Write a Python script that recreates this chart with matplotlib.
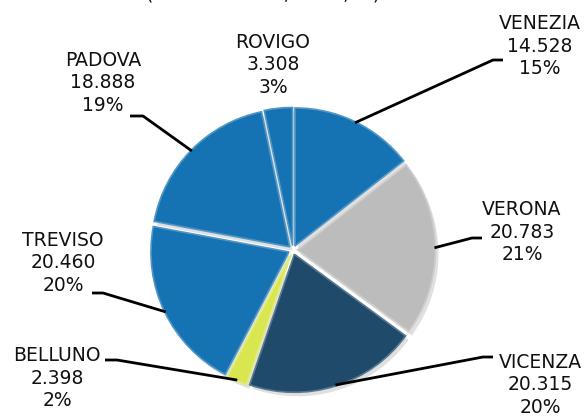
import numpy as np
import matplotlib.pyplot as plt
import matplotlib.colors as mcolors

# data
provinces = ["VENEZIA", "VERONA", "VICENZA", "BELLUNO", "TREVISO", "PADOVA", "ROVIGO"]
values = [14.528, 20.783, 20.315, 2.398, 20.460, 18.888, 3.308]
value_labels = ["14.528", "20.783", "20.315", "2.398", "20.460", "18.888", "3.308"]
pct_labels = ["15%", "21%", "20%", "2%", "20%", "19%", "3%"]
colors = ["#1673b3", "#bcbcbc", "#204a6a", "#d8e650", "#1673b3", "#1673b3", "#1673b3"]

W, H = 587, 416
def Y(y):
    #pixel row -> data y (y axis points up)
    return H - y

def lighter(c, k=0.35):
    rgb = np.array(mcolors.to_rgb(c))
    return tuple(rgb + (1 - rgb) * k)

fig = plt.figure(figsize=(W / 100, H / 100), dpi=100)
ax = fig.add_axes([0, 0, 1, 1])

cx, cy, r = 293, Y(250), 138
expl = [4.5] * len(values)   # pie explode is in data units (pixels here)

#soft shadow under the pie
ax.pie(values, radius=r, center=(cx + 3, cy - 4), startangle=90, counterclock=False,
       explode=expl, colors=["#000000"] * len(values),
       wedgeprops=dict(alpha=0.12, linewidth=0), frame=True)

wedges, _ = ax.pie(values, radius=r, center=(cx, cy), startangle=90, counterclock=False,
                   explode=expl, colors=colors,
                   wedgeprops=dict(linewidth=1.2), frame=True)
for w, c in zip(wedges, colors):
    w.set_edgecolor(lighter(c, 0.25))

ax.set_xlim(0, W)
ax.set_ylim(0, H)
ax.set_aspect("equal")
ax.axis("off")

#label block centers (pixels) and leader elbows
label_pos = {
    "VENEZIA": (540, 46),
    "VERONA": (522, 232),
    "VICENZA": (540, 385),
    "BELLUNO": (57, 378),
    "TREVISO": (63, 263),
    "PADOVA": (103, 83),
    "ROVIGO": (273, 65),
}
elbows = {
    "VENEZIA": [(503, 60), (493, 60)],
    "VERONA": [(482, 238), (472, 238)],
    "VICENZA": [(493, 357), (483, 357)],
    "BELLUNO": [(105, 360), (117, 360)],
    "TREVISO": [(92, 293), (103, 293)],
    "PADOVA": [(130, 116), (143, 116)],
}

for w, name, v, p in zip(wedges, provinces, value_labels, pct_labels):
    lx, ly = label_pos[name]
    ax.text(lx, Y(ly), name + "\n" + v + "\n" + p, ha="center", va="center",
            fontsize=13.5, color="#111111", linespacing=1.25, family="DejaVu Sans")
    if name in elbows:
        ang = np.deg2rad((w.theta1 + w.theta2) / 2)
        wx, wy = w.center
        ex = wx + (r - 1) * np.cos(ang)
        ey = wy + (r - 1) * np.sin(ang)
        pts = elbows[name]
        xs = [pts[0][0], pts[1][0], ex]
        ys = [Y(pts[0][1]), Y(pts[1][1]), ey]
        ax.plot(xs, ys, color="black", lw=2, solid_capstyle="butt")

#title, mostly cut off by the top edge (only descenders visible)
ax.text(263, Y(0), "(valori assoluti, 2011, %)", ha="center", va="baseline",
        fontsize=13.5, color="#111111", family="DejaVu Sans", clip_on=False)

fig.savefig("out.png", dpi=100)
